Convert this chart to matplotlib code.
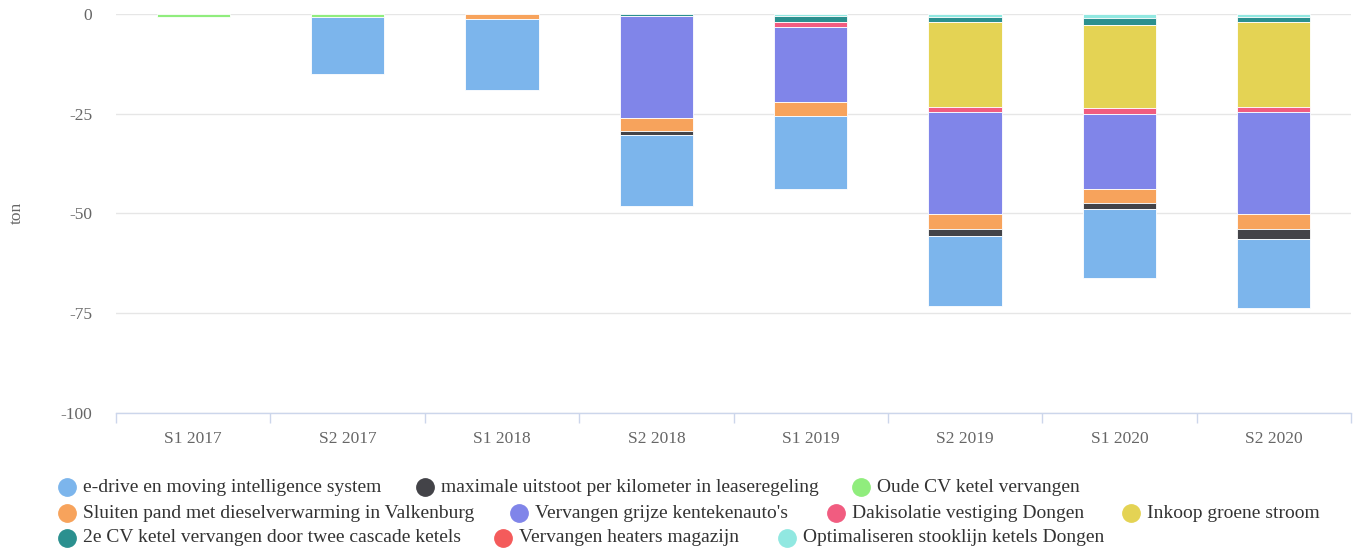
import numpy as np
import matplotlib
matplotlib.use("Agg")
import matplotlib.pyplot as plt
from matplotlib.lines import Line2D

plt.rcParams['font.family'] = ['Liberation Serif', 'DejaVu Serif']

categories = ["S1 2017", "S2 2017", "S1 2018", "S2 2018", "S1 2019", "S2 2019", "S1 2020", "S2 2020"]

e_drive       = [0, -14.3, -17.55, -17.8, -18.2, -17.5, -17.45, -17.25]
maximale      = [0, 0, 0, -1.1, 0, -1.7, -1.35, -2.6]
oude_cv       = [-0.8, -0.8, 0, 0, 0, 0, 0, 0]
sluiten       = [0, 0, -1.45, -3.35, -3.6, -3.8, -3.45, -3.8]
grijze        = [0, 0, 0, -25.3, -18.8, -25.45, -18.8, -25.45]
dakisolatie   = [0, 0, 0, 0, -1.3, -1.35, -1.55, -1.35]
inkoop        = [0, 0, 0, 0, 0, -21.2, -20.85, -21.2]
cv2_cascade   = [0, 0, 0, -0.7, -1.4, -1.35, -1.8, -1.35]
heaters       = [0, 0, 0, 0, 0, 0, 0, 0]
optimaliseren = [0, 0, 0, 0, -0.6, -0.75, -1.0, -0.75]

series_names = [
    "e-drive en moving intelligence system",
    "maximale uitstoot per kilometer in leaseregeling",
    "Oude CV ketel vervangen",
    "Sluiten pand met dieselverwarming in Valkenburg",
    "Vervangen grijze kentekenauto's",
    "Dakisolatie vestiging Dongen",
    "Inkoop groene stroom",
    "2e CV ketel vervangen door twee cascade ketels",
    "Vervangen heaters magazijn",
    "Optimaliseren stooklijn ketels Dongen",
]
series_values = [e_drive, maximale, oude_cv, sluiten, grijze, dakisolatie,
                 inkoop, cv2_cascade, heaters, optimaliseren]
colors = ["#7cb5ec", "#434348", "#90ed7d", "#f7a35c", "#8085e9",
          "#f15c80", "#e4d354", "#2b908f", "#f45b5b", "#91e8e1"]

W, H = 1359, 553
fig = plt.figure(figsize=(W / 100, H / 100), dpi=100)
ax = fig.add_axes([116 / W, 1 - 413 / H, (1351 - 116) / W, (413 - 13.7) / H])

x = np.arange(len(categories))
bottom = np.zeros(len(categories))
# last series sits closest to zero
for name, vals, col in reversed(list(zip(series_names, series_values, colors))):
    v = np.array(vals, dtype=float)
    idx = np.nonzero(v)[0]
    if len(idx):
        ax.bar(x[idx], v[idx], bottom=bottom[idx], width=0.475, color=col,
               edgecolor="white", linewidth=0.6, zorder=3, clip_on=False)
    bottom += v

ax.set_xlim(-0.5, len(categories) - 0.5)
ax.set_ylim(-100, 0)
ax.set_yticks([0, -25, -50, -75, -100])
ax.set_yticklabels(["0", "-25", "-50", "-75", "-100"])
ax.yaxis.grid(True, color="#e6e6e6", linewidth=1, zorder=0)
ax.set_axisbelow(True)
for s in ["left", "right", "top"]:
    ax.spines[s].set_visible(False)
ax.spines["bottom"].set_color("#ccd6eb")
ax.spines["bottom"].set_linewidth(1)
ax.spines["bottom"].set_zorder(4)

ax.set_xticks(x)
ax.set_xticklabels(categories)
ax.set_xticks(np.arange(-0.5, len(categories), 1.0), minor=True)
ax.tick_params(axis="x", which="major", length=0, pad=13, labelsize=12.5, labelcolor="#666666")
ax.tick_params(axis="x", which="minor", length=7.5, color="#ccd6eb", width=1)
ax.tick_params(axis="y", length=0, pad=17, labelsize=12.5, labelcolor="#666666")
ax.set_ylabel("ton", fontsize=12.5, color="#666666")
ax.yaxis.set_label_coords(-(116 - 25) / (1351 - 116), 0.5)

# legend, laid out in rows like the reference
legend_rows = [
    [(0, 67), (1, 425), (2, 861)],
    [(3, 67), (4, 519), (5, 836), (6, 1131)],
    [(7, 67), (8, 503), (9, 787)],
]
row_y = [487, 513, 538]
for row, yy in zip(legend_rows, row_y):
    for i, cx in row:
        fig.add_artist(Line2D([cx / W], [1 - yy / H], marker="o", markersize=12.5,
                              color=colors[i], linestyle="none",
                              transform=fig.transFigure))
        fig.text((cx + 16) / W, 1 - yy / H, series_names[i], fontsize=14,
                 color="#333333", va="center", ha="left")

fig.savefig("out.png", dpi=100)
